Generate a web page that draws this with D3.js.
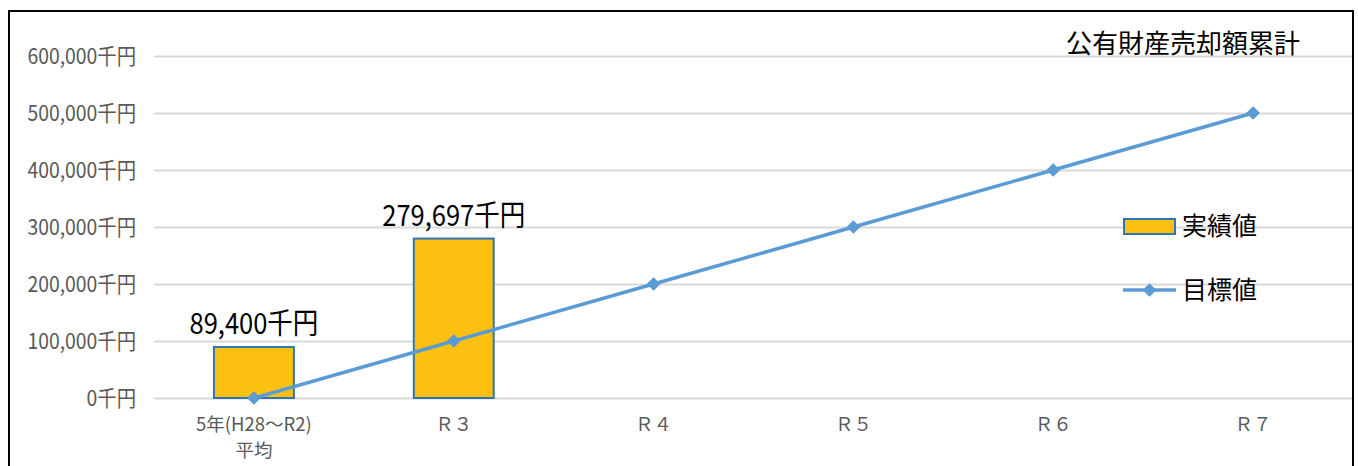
<!DOCTYPE html>
<html lang="ja">
<head>
<meta charset="utf-8">
<script src="https://cdn.jsdelivr.net/npm/d3@7"></script>
<style>
  html, body { margin: 0; padding: 0; background: #fff; }
  svg { display: block; }
  text { font-family: "Noto Sans CJK JP", "Noto Sans", sans-serif; }
</style>
</head>
<body>
<svg id="chart" width="1358" height="466"></svg>
<script>
// 公有財産売却額累計 — actual results (bars) vs. targets (line), in 千円
const categories = ["5年(H28～R2)\n平均", "Ｒ３", "Ｒ４", "Ｒ５", "Ｒ６", "Ｒ７"];
const actualValues = [89400, 279697, null, null, null, null];
const targetValues = [0, 100000, 200000, 300000, 400000, 500000];
const yTicks = [0, 100000, 200000, 300000, 400000, 500000, 600000];
const title = "公有財産売却額累計";
const legendLabels = ["実績値", "目標値"];

const W = 1358, H = 466;
const margin = { left: 154, right: 5, top: 56, bottom: 68 };
const svg = d3.select("#chart");

// outer frame (bottom edge runs past the visible area)
svg.append("rect")
  .attr("x", 9).attr("y", 11)
  .attr("width", 1344).attr("height", 480)
  .attr("fill", "none").attr("stroke", "#000").attr("stroke-width", 2);

const x = d3.scaleBand()
  .domain(categories)
  .range([margin.left, W - margin.right])
  .paddingInner(0).paddingOuter(0);

const y = d3.scaleLinear()
  .domain([0, 600000])
  .range([398, 56]);

const fmt = d3.format(",");
const squeeze = 0.88; // narrow numeric lettering

// y axis: gridlines + labels
const yAxis = d3.axisLeft(y)
  .tickValues(yTicks)
  .tickSize(-(W - margin.right - margin.left - 1))
  .tickPadding(18)
  .tickFormat(d => fmt(d) + "千円");

const gy = svg.append("g")
  .attr("transform", `translate(${margin.left},0)`)
  .call(yAxis);
gy.select(".domain").remove();
gy.selectAll(".tick line").attr("stroke", "#D9D9D9").attr("stroke-width", 2);
gy.selectAll(".tick text")
  .attr("fill", "#595959")
  .attr("font-size", 22)
  .attr("x", 0)
  .attr("transform", `translate(-18,0) scale(${squeeze},1)`);

// x axis labels
const xAxis = d3.axisBottom(x).tickSize(0).tickPadding(0).tickFormat("");
const gx = svg.append("g")
  .attr("transform", `translate(0,${y(0)})`)
  .call(xAxis);
gx.select(".domain").remove();
gx.selectAll(".tick").each(function(d) {
  const lines = d.split("\n");
  lines.forEach((ln, i) => {
    d3.select(this).append("text")
      .attr("fill", "#595959")
      .attr("font-size", 18.5)
      .attr("text-anchor", "middle")
      .attr("x", 0)
      .attr("y", 33 + i * 26)
      .text(ln);
  });
});

// bars: actual values
const barW = x.bandwidth() * 0.4;
const barData = categories.map((c, i) => ({ c, v: actualValues[i] })).filter(d => d.v != null);

svg.append("g").selectAll("rect")
  .data(barData)
  .join("rect")
  .attr("x", d => x(d.c) + (x.bandwidth() - barW) / 2)
  .attr("y", d => y(d.v))
  .attr("width", barW)
  .attr("height", d => y(0) - y(d.v))
  .attr("fill", "#FCC010")
  .attr("stroke", "#2E75B6")
  .attr("stroke-width", 2);

// bar value labels
svg.append("g").selectAll("text")
  .data(barData)
  .join("text")
  .attr("transform", d => `translate(${x(d.c) + x.bandwidth() / 2},${y(d.v) - 13}) scale(${squeeze},1)`)
  .attr("text-anchor", "middle")
  .attr("font-size", 29)
  .attr("fill", "#000")
  .text(d => fmt(d.v) + "千円");

// target line
const lineData = categories.map((c, i) => ({ c, v: targetValues[i] }));
const cx = d => x(d.c) + x.bandwidth() / 2;

svg.append("path")
  .datum(lineData)
  .attr("fill", "none")
  .attr("stroke", "#5B9BD5")
  .attr("stroke-width", 3.5)
  .attr("stroke-linejoin", "round")
  .attr("d", d3.line().x(cx).y(d => y(d.v)));

const diamond = d3.symbol().type(d3.symbolDiamond2).size(120);
svg.append("g").selectAll("path")
  .data(lineData)
  .join("path")
  .attr("transform", d => `translate(${cx(d)},${y(d.v)})`)
  .attr("d", diamond)
  .attr("fill", "#5B9BD5");

// title
svg.append("text")
  .attr("x", 1183).attr("y", 53)
  .attr("text-anchor", "middle")
  .attr("font-size", 26)
  .attr("fill", "#000")
  .text(title);

// legend
const lg = svg.append("g");
lg.append("rect")
  .attr("x", 1124).attr("y", 219)
  .attr("width", 51).attr("height", 15)
  .attr("fill", "#FCC010").attr("stroke", "#2E75B6").attr("stroke-width", 2);
lg.append("text")
  .attr("x", 1182).attr("y", 235)
  .attr("font-size", 25).attr("fill", "#000")
  .text(legendLabels[0]);

lg.append("line")
  .attr("x1", 1123).attr("x2", 1176)
  .attr("y1", 290).attr("y2", 290)
  .attr("stroke", "#5B9BD5").attr("stroke-width", 3.5);
lg.append("path")
  .attr("transform", "translate(1149.5,290)")
  .attr("d", diamond)
  .attr("fill", "#5B9BD5");
lg.append("text")
  .attr("x", 1182).attr("y", 299)
  .attr("font-size", 25).attr("fill", "#000")
  .text(legendLabels[1]);
</script>
</body>
</html>
